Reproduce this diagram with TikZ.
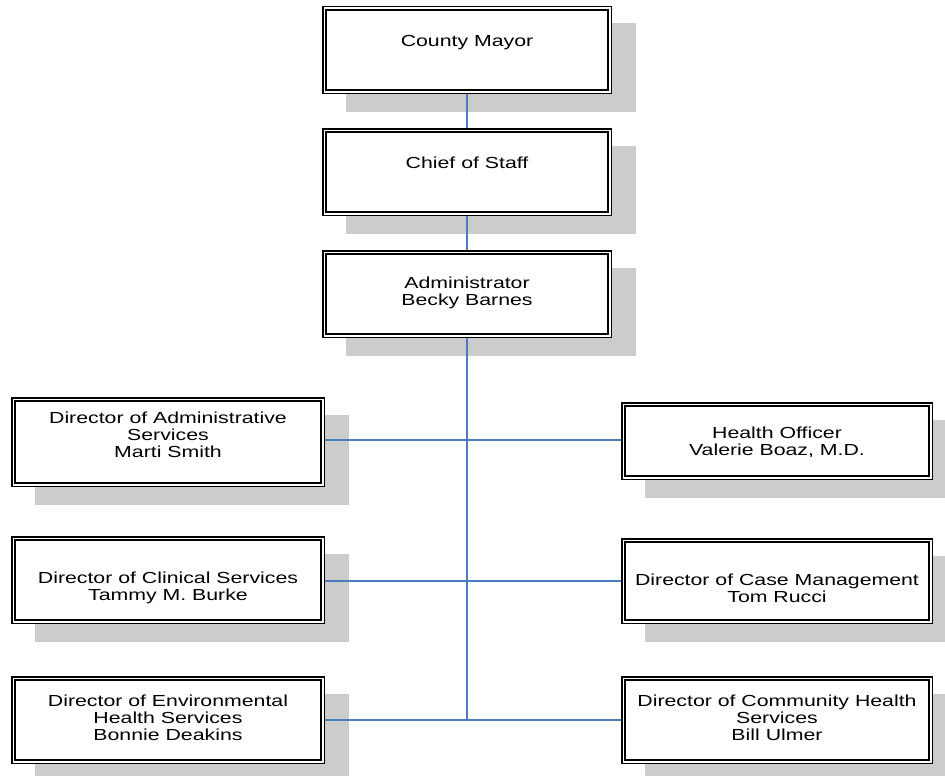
\documentclass[tikz,border=0pt]{standalone}
\usepackage{fontspec}
\setmainfont[FakeStretch=1.33]{Liberation Sans}
\usetikzlibrary{calc}
\definecolor{shadowgray}{RGB}{204,204,204}
\definecolor{linkblue}{RGB}{74,126,187}
\pgfdeclarelayer{shadowlayer}
\pgfdeclarelayer{linklayer}
\pgfsetlayers{shadowlayer,linklayer,main}
\tikzset{
  orgbox/.style={draw=black, line width=1.5pt, double=white, double distance=1.7pt, fill=white, inner sep=0pt, outer sep=0pt},
  orgtext/.style={inner sep=0pt, align=center, font=\fontsize{16}{17}\selectfont},
  link/.style={draw=linkblue, line width=1.4pt},
}
\newcommand\obx[5]{%
  \begin{pgfonlayer}{shadowlayer}
    \fill[shadowgray] (#2+23.5,#3+17.5) rectangle (#4+23.5,#5+17.5);
  \end{pgfonlayer}
  \node[orgbox, minimum width={(#4-#2-4.7)*1pt}, minimum height={(#5-#3-4.7)*1pt}] (#1) at ({(#2+#4)/2},{(#3+#5)/2}) {};
}
\begin{document}
\begin{tikzpicture}[x=1pt,y=-1pt]
\useasboundingbox (0,0) rectangle (945,776);
\obx{mayor}{322}{6}{612}{94}
\obx{chief}{322}{128}{612}{216}
\obx{admin}{322}{250}{612}{338}
\obx{ads}{11}{397}{325}{487}
\obx{ho}{621}{402}{933}{480}
\obx{cs}{11}{536}{325}{624}
\obx{cm}{621}{538}{933}{624}
\obx{env}{11}{676}{325}{764}
\obx{com}{621}{676}{933}{764}

\node[orgtext] (t-mayor) at (467,43) {County Mayor};
\node[orgtext] (t-chief) at (467,163) {Chief of Staff};
\node[orgtext] (t-admin) at (467,293) {Administrator\\Becky Barnes};
\node[orgtext] (t-ads) at (168,435) {Director of Administrative\\Services\\Marti Smith};
\node[orgtext] (t-ho) at (777,442) {Health Officer\\Valerie Boaz, M.D.};
\node[orgtext] (t-cs) at (168,588) {Director of Clinical Services\\Tammy M. Burke};
\node[orgtext] (t-cm) at (777,588) {Director of Case Management\\Tom Rucci};
\node[orgtext] (t-env) at (168,718) {Director of Environmental\\Health Services\\Bonnie Deakins};
\node[orgtext] (t-com) at (777,718) {Director of Community Health\\Services\\Bill Ulmer};

\coordinate (r1) at (466.5,440);
\coordinate (r2) at (466.5,581);
\coordinate (r3) at (466.5,720);
\begin{pgfonlayer}{linklayer}
  \draw[link] (mayor.south) -- (chief.north);
  \draw[link] (chief.south) -- (admin.north);
  \draw[link] (admin.south) -- (admin.south |- r3);
  \draw[link] (ads.east |- r1) -- (ho.west |- r1);
  \draw[link] (cs.east |- r2) -- (cm.west |- r2);
  \draw[link] (env.east |- r3) -- (com.west |- r3);
\end{pgfonlayer}
\end{tikzpicture}
\end{document}
